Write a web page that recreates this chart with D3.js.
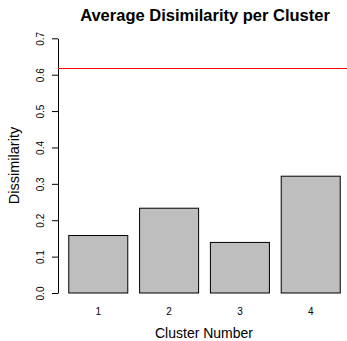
<!DOCTYPE html>
<html>
<head>
<meta charset="utf-8">
<script src="https://cdn.jsdelivr.net/npm/d3@7"></script>
<style>
  body { margin: 0; background: #fff; }
  text { font-family: "Liberation Sans", Arial, Helvetica, sans-serif; }
</style>
</head>
<body>
<div id="viz"></div>
<script>
var clusters = ['1', '2', '3', '4'];
var dissim = [0.158, 0.233, 0.139, 0.321];
var yTicks = [0, 0.1, 0.2, 0.3, 0.4, 0.5, 0.6, 0.7];
var overall = 0.617;

var width = 347,
    height = 341;

// plot region
var left = 58, right = 351, bottom = 293;

var xScale = d3.scaleBand()
    .domain(clusters)
    .range([left, right])
    .paddingInner(1 / 6)
    .paddingOuter(0.152);

var yScale = d3.scaleLinear()
    .domain([0, 0.7])
    .range([bottom, 38.3]);

var svg = d3.select('#viz').append('svg')
    .attr('width', width)
    .attr('height', height)
    .style('background', '#fff');

svg.selectAll('rect.bar').data(dissim)
    .enter().append('rect')
    .attr('class', 'bar')
    .attr('x', function(d, i) { return xScale(clusters[i]); })
    .attr('width', xScale.bandwidth())
    .attr('y', function(d) { return yScale(d); })
    .attr('height', function(d) { return yScale(0) - yScale(d); })
    .attr('fill', '#bebebe')
    .attr('stroke', '#000')
    .attr('stroke-width', 1);

// y axis
var yAxis = d3.axisLeft(yScale)
    .tickValues(yTicks)
    .tickFormat(d3.format('.1f'))
    .tickSize(6)
    .tickSizeOuter(0);

var gy = svg.append('g')
    .attr('transform', 'translate(' + left + ',0)')
    .call(yAxis);
gy.select('.domain').attr('stroke', '#000');
gy.selectAll('.tick line').attr('stroke', '#000');
gy.selectAll('.tick text')
    .attr('font-size', 10)
    .attr('font-family', '"Liberation Sans", Arial, sans-serif')
    .attr('fill', '#000')
    .attr('text-anchor', 'middle')
    .attr('x', null)
    .attr('dy', null)
    .attr('transform', 'translate(-14,0) rotate(-90)')
    .attr('y', 0);

// x labels (no axis line in R barplot)
svg.selectAll('text.xlab').data(clusters)
    .enter().append('text')
    .attr('class', 'xlab')
    .attr('x', function(d) { return xScale(d) + xScale.bandwidth() / 2; })
    .attr('y', 315)
    .attr('text-anchor', 'middle')
    .attr('font-size', 10)
    .text(function(d) { return d; });

// overall average line
svg.append('line')
    .attr('x1', left)
    .attr('x2', width)
    .attr('y1', yScale(overall))
    .attr('y2', yScale(overall))
    .attr('stroke', '#ff0000')
    .attr('stroke-width', 1);

svg.append('text')
    .attr('x', 205)
    .attr('y', 20.5)
    .attr('text-anchor', 'middle')
    .attr('font-size', 16.5)
    .attr('font-weight', 'bold')
    .text('Average Disimilarity per Cluster');

svg.append('text')
    .attr('x', 204)
    .attr('y', 337.5)
    .attr('text-anchor', 'middle')
    .attr('font-size', 14)
    .text('Cluster Number');

svg.append('text')
    .attr('transform', 'translate(19,165.5) rotate(-90)')
    .attr('text-anchor', 'middle')
    .attr('font-size', 14.5)
    .text('Dissimilarity');
</script>
</body>
</html>
